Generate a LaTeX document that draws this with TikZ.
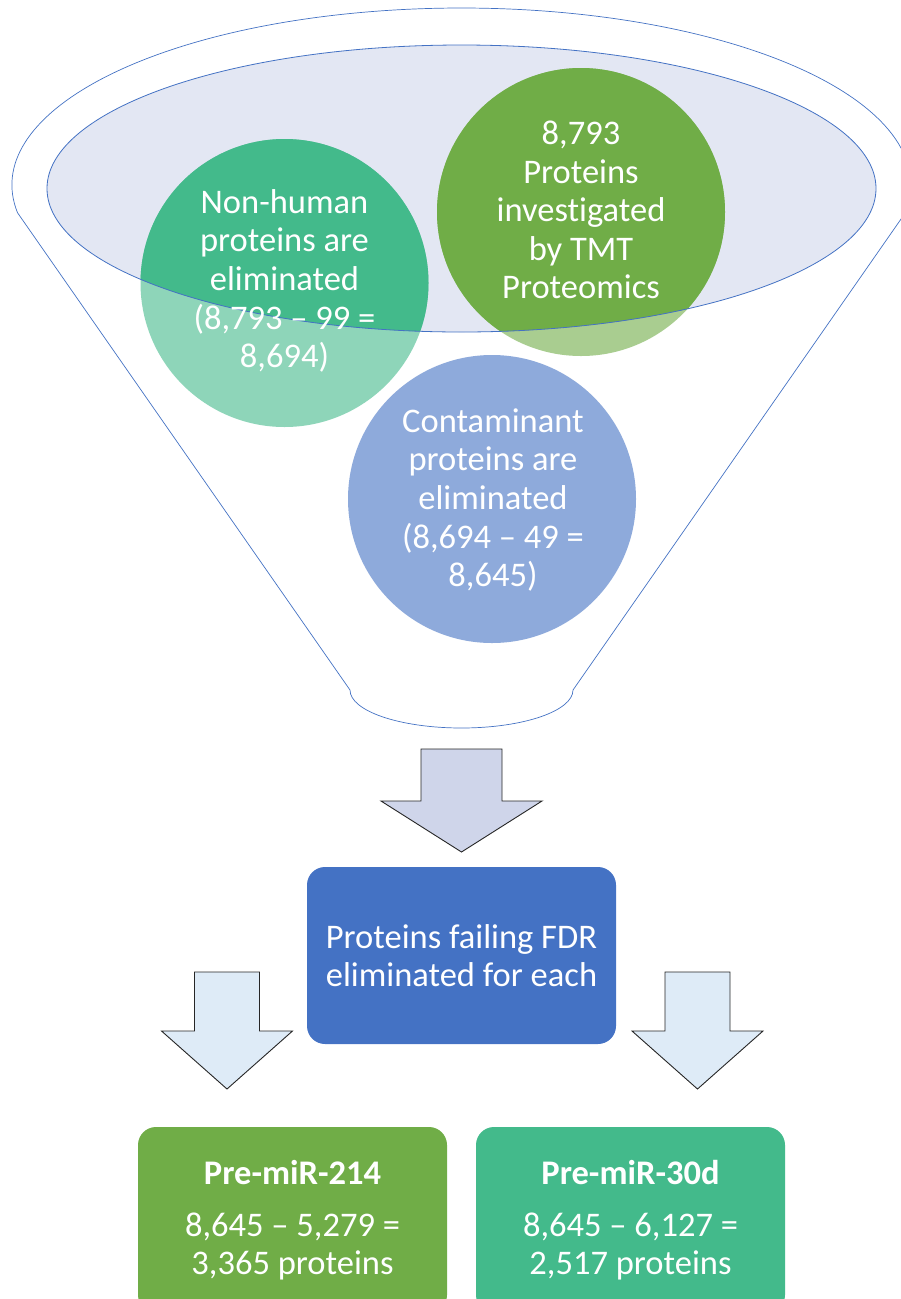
\documentclass[tikz,border=0pt]{standalone}
\usepackage{fontspec}
\setmainfont{Carlito}[Ligatures=NoCommon]

\definecolor{funnelblue}{RGB}{68,114,196}
\definecolor{rimfill}{RGB}{227,231,243}
\definecolor{circteal}{RGB}{67,186,139}
\definecolor{circgreen}{RGB}{112,173,71}
\definecolor{circblue}{RGB}{68,114,196}
\definecolor{bigarrowfill}{RGB}{207,213,234}
\definecolor{smallarrowfill}{RGB}{222,235,247}

\tikzset{
  circtext/.style={align=center, text=white, font=\fontsize{34.5}{38.6}\selectfont},
  stepbox/.style={rounded corners=18pt, minimum width=309pt, minimum height=178pt,
    align=center, text=white, font=\fontsize{34.5}{37.5}\selectfont},
  blockarrow/.style={draw=black!85, line width=0.9pt, line join=miter},
}

\begin{document}
\begin{tikzpicture}[x=1pt,y=-1pt]
  \useasboundingbox (0,0) rectangle (901,1299);

  % funnel body
  \draw[funnelblue, line width=0.7pt, fill=white] (17.5,212.7)
    arc[start angle=189, end angle=-9, x radius=449.5pt, y radius=177pt]
    -- (573,690)
    arc[start angle=0, end angle=-180, x radius=111.5pt, y radius=38pt]
    -- cycle;
  \fill[rimfill] (461.5,188.5) ellipse[x radius=414.5pt, y radius=143.5pt];

  \coordinate (c1) at (284.5,283);
  \coordinate (c2) at (581,212);
  \coordinate (c3) at (492,499);

  % circles, lighter outside the rim
  \fill[circteal, opacity=0.6] (c1) circle[radius=144pt];
  \fill[circgreen, opacity=0.6] (c2) circle[radius=144pt];
  \fill[circblue, opacity=0.6] (c3) circle[radius=144pt];
  \begin{scope}
    \clip (461.5,188.5) ellipse[x radius=414.5pt, y radius=143.5pt];
    \fill[circteal] (c1) circle[radius=144pt];
    \fill[circgreen] (c2) circle[radius=144pt];
  \end{scope}
  \draw[funnelblue, line width=0.8pt] (461.5,188.5) ellipse[x radius=414.5pt, y radius=143.5pt];

  \node[circtext] (nonhuman) at (284.5,281) {Non-human\\proteins are\\eliminated\\(8,793 – 99 =\\8,694)};
  \node[circtext] (total) at (581,210) {8,793\\Proteins\\investigated\\by TMT\\Proteomics};
  \node[circtext] (contam) at (493,500) {Contaminant\\proteins are\\eliminated\\(8,694 – 49 =\\8,645)};

  % arrow out of the funnel
  \draw[blockarrow, fill=bigarrowfill] (421,749) -- (502,749) -- (502,801) -- (542,801)
    -- (461.5,852) -- (381,801) -- (421,801) -- cycle;

  \node[stepbox, fill=funnelblue, minimum height=177pt] (fdr) at (461.5,955.5)
    {Proteins failing FDR\\eliminated for each};

  \foreach \x in {227,697.5}
    \draw[blockarrow, fill=smallarrowfill] ({\x-32.5},972) -- ({\x+32.5},972) -- ({\x+32.5},1031)
      -- ({\x+65.5},1031) -- (\x,1089) -- ({\x-65.5},1031) -- ({\x-32.5},1031) -- cycle;

  \node[stepbox, fill=circgreen, minimum height=186pt] (mir214) at (292.5,1220)
    {\textbf{Pre-miR-214}\\[15pt]8,645 – 5,279 =\\3,365 proteins};
  \node[stepbox, fill=circteal, minimum height=186pt] (mir30d) at (630.5,1220)
    {\textbf{Pre-miR-30d}\\[15pt]8,645 – 6,127 =\\2,517 proteins};
\end{tikzpicture}
\end{document}
